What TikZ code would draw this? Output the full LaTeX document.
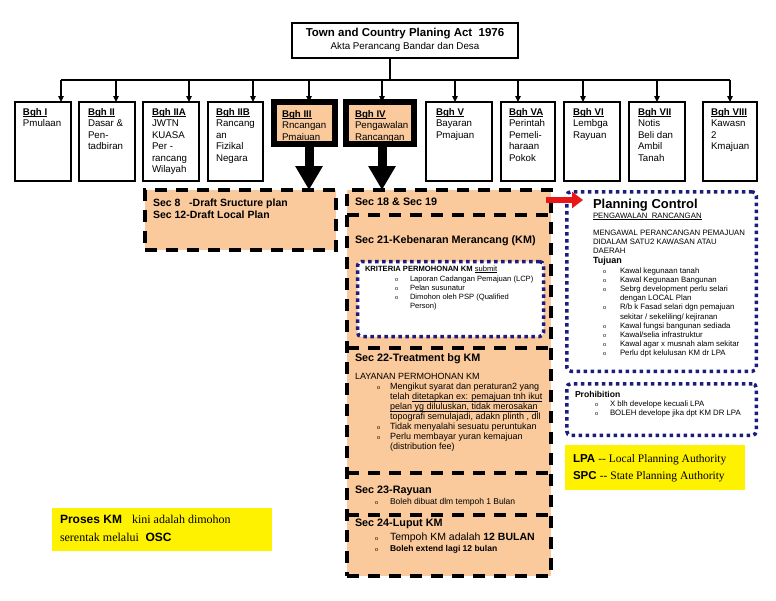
\documentclass[tikz,border=0pt]{standalone}
\usepackage{fontspec}
\setmainfont{Liberation Sans}
\newfontfamily\tnr{Liberation Serif}
\usetikzlibrary{arrows.meta}
\definecolor{peach}{RGB}{250,202,156}
\definecolor{navy}{RGB}{28,28,125}
\definecolor{redarr}{RGB}{232,22,22}
\newcommand\fs[2]{\fontsize{#1}{#2}\selectfont}
\newcommand\bu[1]{\makebox[#1][l]{\normalfont\fontsize{5.5}{6}\selectfont o}}
\newcommand\ul[1]{\mbox{\setbox0\hbox{#1}\rlap{\rule[-0.16em]{\wd0}{0.07em}}\box0}}
\begin{document}
\begin{tikzpicture}[x=1pt,y=-1pt,
  box/.style={draw=black,line width=1.2pt,fill=white,anchor=north west,inner sep=0pt,outer sep=0pt},
  bgh/.style={box,minimum height=79pt},
  bghthick/.style={draw=black,line width=6pt,fill=peach,anchor=north west,inner sep=0pt,outer sep=0pt,minimum height=42pt},
  txt/.style={anchor=north west,inner sep=0pt,outer sep=0pt,align=left},
  bghtxt/.style={txt,font=\fs{9.7}{11.5}},
  dashbox/.style={draw=black,line width=4pt,dash pattern=on 12pt off 9pt,fill=peach,anchor=north west,inner sep=0pt,outer sep=0pt},
  dashline/.style={draw=black,line width=4pt,dash pattern=on 12pt off 9pt},
  dotbox/.style={draw=navy,line width=3.5pt,dash pattern=on 3.5pt off 3.5pt,fill=white,rounded corners=4pt,anchor=north west,inner sep=0pt,outer sep=0pt},
  ybox/.style={fill=yellow,draw=none,anchor=north west,inner sep=0pt,outer sep=0pt},
  arr/.style={line width=1.2pt,-{Triangle[length=6pt,width=5.5pt]}},
  bigarr/.style={line width=9pt,-{Triangle[length=24pt,width=26pt]}},
  redarrow/.style={draw=redarr,line width=6pt,-{Triangle[length=11pt,width=16pt]}},
  sechead/.style={txt,font=\bfseries\fs{10.8}{12}},
]
\useasboundingbox (0,0) rectangle (776,600);
\fill[white] (0,0) rectangle (776,600);

% title
\node[box,minimum width=226pt,minimum height=35pt] (title) at (292,23) {};
\node[inner sep=0pt,font=\bfseries\fs{11.5}{13}] (tt1) at (405,33.5) {Town and Country Planing Act\ \ 1976};
\node[inner sep=0pt,font=\fs{9.8}{11}] (tt2) at (405,47) {Akta Perancang Bandar dan Desa};

% bgh boxes
\node[bgh,minimum width=56pt] (b1) at (15,102) {};
\node[bgh,minimum width=56pt] (b2) at (79,102) {};
\node[bgh,minimum width=56pt] (b2a) at (143,102) {};
\node[bgh,minimum width=55pt] (b2b) at (208,102) {};
\node[bghthick,minimum width=61pt] (b3) at (274,102) {};
\node[bghthick,minimum width=68pt] (b4) at (346,102) {};
\node[bgh,minimum width=66pt] (b5) at (426,102) {};
\node[bgh,minimum width=54pt] (b5a) at (501,102) {};
\node[bgh,minimum width=56pt] (b6) at (564,102) {};
\node[bgh,minimum width=56pt] (b7) at (629,102) {};
\node[bgh,minimum width=54pt] (b8) at (703,102) {};

\node[bghtxt] (b1t) at (23,108) {\ul{\textbf{Bgh I}}\\Pmulaan};
\node[bghtxt] (b2t) at (88,108) {\ul{\textbf{Bgh II}}\\Dasar \&\\Pen-\\tadbiran};
\node[bghtxt] (b2at) at (152,108) {\ul{\textbf{Bgh IIA}}\\JWTN\\KUASA\\Per -\\rancang\\Wilayah};
\node[bghtxt] (b2bt) at (216,108) {\ul{\textbf{Bgh IIB}}\\Rancang\\an\\Fizikal\\Negara};
\node[bghtxt] (b3t) at (282,110) {\ul{\textbf{Bgh III}}\\Rncangan\\Pmaiuan};
\node[bghtxt] (b4t) at (355,110) {\ul{\textbf{Bgh IV}}\\Pengawalan\\Rancangan};
\node[bghtxt] (b5t) at (436,108) {\ul{\textbf{Bgh V}}\\Bayaran\\Pmajuan};
\node[bghtxt] (b5at) at (509,108) {\ul{\textbf{Bgh VA}}\\Perintah\\Pemeli-\\haraan\\Pokok};
\node[bghtxt] (b6t) at (573,108) {\ul{\textbf{Bgh VI}}\\Lembga\\Rayuan};
\node[bghtxt] (b7t) at (638,108) {\ul{\textbf{Bgh VII}}\\Notis\\Beli dan\\Ambil\\Tanah};
\node[bghtxt] (b8t) at (711,108) {\ul{\textbf{Bgh VIII}}\\Kawasn\\2\\Kmajuan};

% trunk and bus
\coordinate (trunk) at (390,80);
\draw[line width=1.2pt] (title.south -| trunk) -- (trunk);
\coordinate (busL) at (61,80);
\coordinate (busR) at (730,80);
\draw[line width=1.2pt] (busL) -- (busR);
\foreach \x/\n in {61/b1,116/b2,189/b2a,253/b2b,309/b3,382/b4,455/b5,518/b5a,583/b6,657/b7,730/b8}{
  \coordinate (k\n) at (\x,80);
  \draw[arr] (k\n) -- (k\n |- \n.north);
}

% sec 8 box
\node[dashbox,minimum width=191pt,minimum height=60pt] (sec8) at (145,190) {};
\node[txt,font=\bfseries\fs{10.5}{11.7}] (sec8t) at (153,198.8) {Sec 8\ \ \ -Draft Sructure plan\\Sec 12-Draft Local Plan};

% middle column
\node[dashbox,minimum width=204pt,minimum height=386pt] (mid) at (347,190) {};
\foreach \y in {215,348,473,515}{
  \coordinate (s\y) at (347,\y);
  \draw[dashline] (s\y) -- (s\y -| mid.east);
}

% big arrows
\coordinate (a3) at (309,190);
\coordinate (a4) at (382,190);
\draw[bigarr] (a3 |- b3.south) -- (a3);
\draw[bigarr] (a4 |- b4.south) -- (a4);

\node[sechead] (s18) at (355,197.7) {Sec 18 \& Sec 19};
\node[sechead] (s21) at (355,235.7) {Sec 21-Kebenaran Merancang (KM)};

\node[dotbox,minimum width=186pt,minimum height=75pt] (krit) at (357.5,261.5) {};
\node[txt,font=\fs{7.6}{9}] (kh) at (365,266) {\textbf{KRITERIA PERMOHONAN KM} \ul{submit}};
\node[txt,font=\fs{7.6}{9}] (kl) at (395,276) {\bu{15pt}Laporan Cadangan Pemajuan (LCP)\\\bu{15pt}Pelan susunatur\\\bu{15pt}Dimohon oleh PSP (Qualified\\\hspace*{15pt}Person)};

\node[sechead] (s22) at (355,353.7) {Sec 22-Treatment bg KM};
\node[txt,font=\fs{9}{10}] (s22b) at (355,373.4) {LAYANAN PERMOHONAN KM\\
\hspace*{22pt}\bu{13pt}Mengikut syarat dan peraturan2 yang\\
\hspace*{35pt}telah \ul{ditetapkan ex: pemajuan tnh ikut}\\
\hspace*{35pt}\ul{pelan yg diluluskan, tidak merosakan}\\
\hspace*{35pt}topografi semulajadi, adakn plinth , dll\\
\hspace*{22pt}\bu{13pt}Tidak menyalahi sesuatu peruntukan\\
\hspace*{22pt}\bu{13pt}Perlu membayar yuran kemajuan\\
\hspace*{35pt}(distribution fee)};

\node[sechead] (s23) at (355,485.7) {Sec 23-Rayuan};
\node[txt,font=\fs{8.5}{10}] (s23l) at (375,498.6) {\bu{15pt}Boleh dibuat dlm tempoh 1 Bulan};
\node[sechead] (s24) at (355,518.7) {Sec 24-Luput KM};
\node[txt,font=\fs{10.5}{12}] (s24a) at (375,532.8) {\bu{15pt}Tempoh KM adalah \textbf{12 BULAN}};
\node[txt,font=\bfseries\fs{8.5}{10}] (s24b) at (375,545.6) {\bu{15pt}Boleh extend lagi 12 bulan};

% planning control
\node[dotbox,minimum width=189.5pt,minimum height=179.5pt] (pc) at (566.75,191.75) {};
\node[txt,font=\bfseries\fs{13}{15}] (pch) at (593,198.8) {Planning Control};
\node[txt,font=\fs{7.8}{9}] (pcs) at (593,212.9) {\ul{PENGAWALAN\ \ RANCANGAN}};
\node[txt,font=\fs{7.8}{9}] (pcm) at (593,229.9) {MENGAWAL PERANCANGAN PEMAJUAN\\DIDALAM SATU2 KAWASAN ATAU\\DAERAH};
\node[txt,font=\bfseries\fs{9}{10}] (pct) at (593,257.4) {Tujuan};
\node[txt,font=\fs{7.8}{9.1}] (pcl) at (603,267.9) {\bu{17pt}Kawal kegunaan tanah\\\bu{17pt}Kawal Kegunaan Bangunan\\\bu{17pt}Sebrg development perlu selari\\\hspace*{17pt}dengan LOCAL Plan\\\bu{17pt}R/b k Fasad selari dgn pemajuan\\\hspace*{17pt}sekitar / sekeliling/ kejiranan\\\bu{17pt}Kawal fungsi bangunan sediada\\\bu{17pt}Kawal/selia infrastruktur\\\bu{17pt}Kawal agar x musnah alam sekitar\\\bu{17pt}Perlu dpt kelulusan KM dr LPA};

% prohibition
\node[dotbox,minimum width=189.5pt,minimum height=51.5pt] (pr) at (566.75,383.75) {};
\node[txt,font=\bfseries\fs{8.6}{10}] (prh) at (575,391.6) {Prohibition};
\node[txt,font=\fs{7.8}{9}] (prl) at (595,400.9) {\bu{15pt}X blh develope kecuali LPA\\\bu{15pt}BOLEH develope jika dpt KM DR LPA};

% LPA legend
\node[ybox,minimum width=180pt,minimum height=45pt] (lpa) at (565,445) {};
\node[txt,font=\fs{11.5}{17}] (lpat) at (573,454.4) {\textbf{LPA} {\tnr -- Local Planning Authority}\\\textbf{SPC}\ {\tnr -- State Planning Authority}};

% left yellow note
\node[ybox,minimum width=220pt,minimum height=43pt] (osc) at (52,508) {};
\node[txt,font=\fs{12}{17.7}] (osct) at (60,515.2) {\textbf{Proses KM}\ \ \ {\tnr kini adalah dimohon}\\{\tnr serentak melalui}\ \ \textbf{OSC}};

% red arrow
\coordinate (rs) at (546,200);
\coordinate (re) at (583,200);
\draw[redarrow] (rs) -- (re);
\end{tikzpicture}
\end{document}
